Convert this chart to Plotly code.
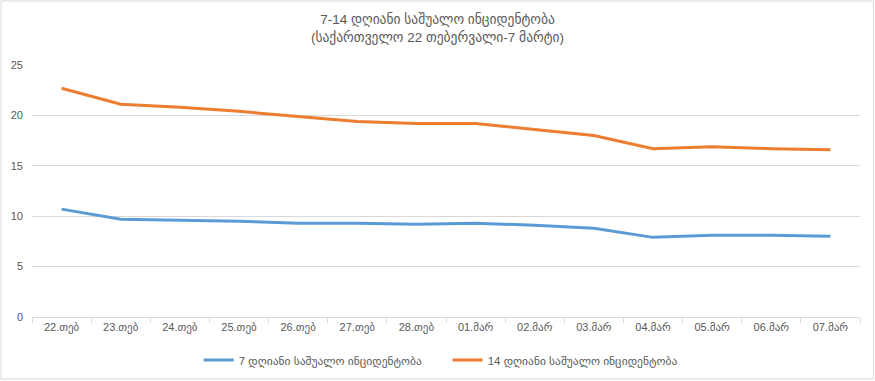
import plotly.graph_objects as go

categories = ["22.თებ", "23.თებ", "24.თებ", "25.თებ", "26.თებ", "27.თებ", "28.თებ",
              "01.მარ", "02.მარ", "03.მარ", "04.მარ", "05.მარ", "06.მარ", "07.მარ"]
avg7 = [10.7, 9.7, 9.6, 9.5, 9.3, 9.3, 9.2, 9.3, 9.1, 8.8, 7.9, 8.1, 8.1, 8.0]
avg14 = [22.7, 21.1, 20.8, 20.4, 19.9, 19.4, 19.2, 19.2, 18.6, 18.0, 16.7, 16.9, 16.7, 16.6]
series_names = ["7 დღიანი საშუალო ინციდენტობა", "14 დღიანი საშუალო ინციდენტობა"]
title_text = "7-14 დღიანი საშუალო ინციდენტობა<br>(საქართველო 22 თებერვალი-7 მარტი)"

FONT = "Liberation Sans, DejaVu Sans, sans-serif"

fig = go.Figure()
fig.add_trace(go.Scatter(x=categories, y=avg7, mode="lines", name=series_names[0],
                         line=dict(color="#5B9BD5", width=3)))
fig.add_trace(go.Scatter(x=categories, y=avg14, mode="lines", name=series_names[1],
                         line=dict(color="#ED7D31", width=3)))

fig.update_layout(
    width=875, height=381,
    margin=dict(l=32, r=15, t=65, b=64, autoexpand=False),
    paper_bgcolor="white", plot_bgcolor="white",
    font=dict(family=FONT, size=11, color="#595959"),
    title=dict(text=title_text, x=0.5, xanchor="center", y=1 - 24 / 381, yanchor="middle",
               font=dict(family=FONT, size=13.5, color="#595959")),
    showlegend=True,
    legend=dict(orientation="h", x=0.502, xanchor="center", yref="container",
                y=1 - 360 / 381, yanchor="middle", entrywidth=204, entrywidthmode="pixels",
                font=dict(size=11.5, color="#595959"), itemwidth=30, bgcolor="rgba(0,0,0,0)"),
    xaxis=dict(type="category", range=[-0.5, len(categories) - 0.5], automargin=False,
               showgrid=False, showline=True, linecolor="#D9D9D9", linewidth=1,
               ticks="outside", tickson="boundaries", ticklen=5, tickcolor="#D9D9D9",
               tickfont=dict(size=11, color="#595959"), fixedrange=True),
    yaxis=dict(range=[0, 25], dtick=5, showgrid=True, gridcolor="#D9D9D9", gridwidth=1,
               automargin=False, zeroline=False, showline=False, ticks="",
               tickfont=dict(size=11, color="#595959"), ticklabelstandoff=8),
    shapes=[dict(type="rect", xref="paper", yref="paper",
                 x0=-0.0374, x1=1.0163, y0=-0.246, y1=1.254,
                 line=dict(color="#D9D9D9", width=1), fillcolor="rgba(0,0,0,0)", layer="below")],
)

fig.write_html("out.html", config={"displayModeBar": False},
               post_script="document.body.style.margin='0';")
